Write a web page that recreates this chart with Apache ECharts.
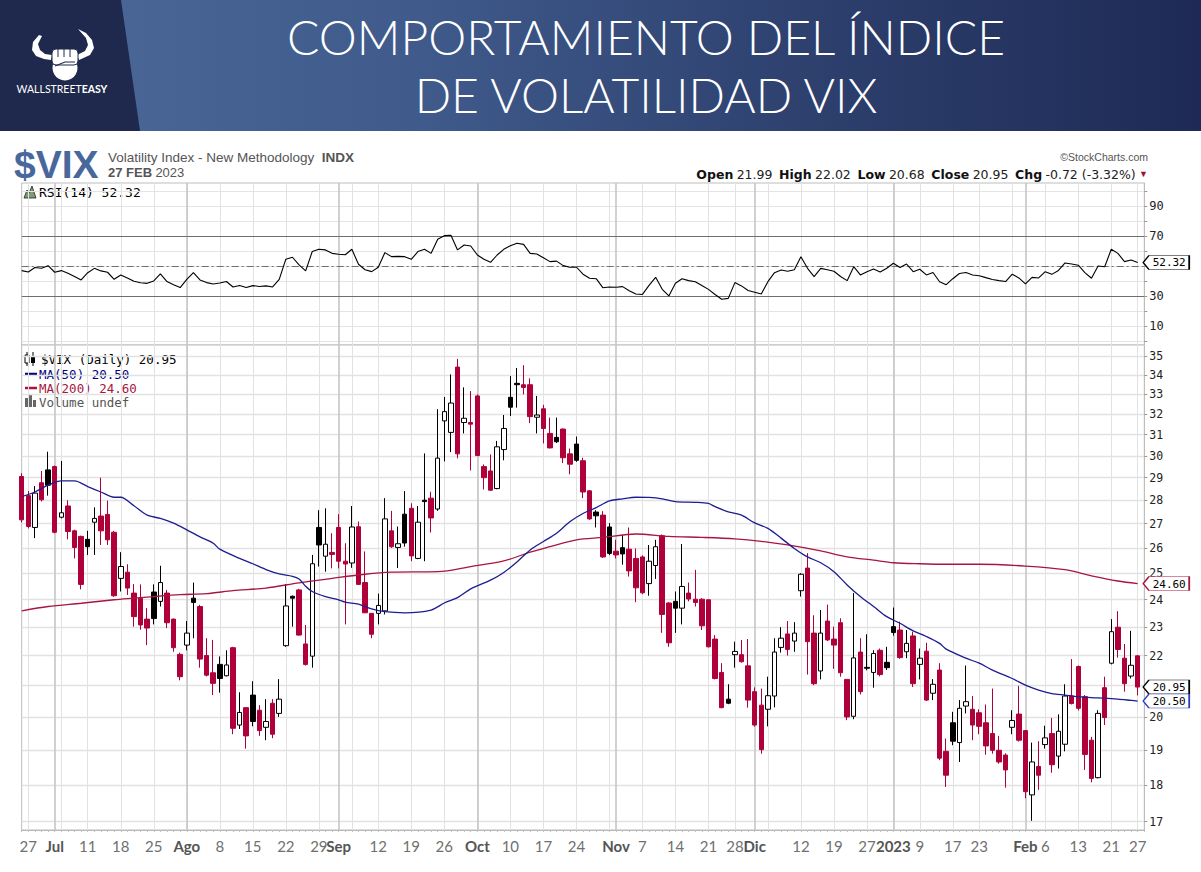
<!DOCTYPE html>
<html><head><meta charset="utf-8">
<script src="https://cdn.jsdelivr.net/npm/echarts@6/dist/echarts.min.js"></script>
<style>html,body{margin:0;padding:0;background:#fff}#c{width:1201px;height:872px}</style>
</head><body><div id="c"></div>
<script>
// ---------- DATA ----------
const dates = [
 '2022-06-24','2022-06-27','2022-06-28','2022-06-29','2022-06-30',
 '2022-07-01','2022-07-05','2022-07-06','2022-07-07','2022-07-08','2022-07-11','2022-07-12','2022-07-13','2022-07-14','2022-07-15',
 '2022-07-18','2022-07-19','2022-07-20','2022-07-21','2022-07-22','2022-07-25','2022-07-26','2022-07-27','2022-07-28','2022-07-29',
 '2022-08-01','2022-08-02','2022-08-03','2022-08-04','2022-08-05','2022-08-08','2022-08-09','2022-08-10','2022-08-11','2022-08-12',
 '2022-08-15','2022-08-16','2022-08-17','2022-08-18','2022-08-19','2022-08-22','2022-08-23','2022-08-24','2022-08-25','2022-08-26',
 '2022-08-29','2022-08-30','2022-08-31',
 '2022-09-01','2022-09-02','2022-09-06','2022-09-07','2022-09-08','2022-09-09','2022-09-12','2022-09-13','2022-09-14','2022-09-15',
 '2022-09-16','2022-09-19','2022-09-20','2022-09-21','2022-09-22','2022-09-23','2022-09-26','2022-09-27','2022-09-28','2022-09-29','2022-09-30',
 '2022-10-03','2022-10-04','2022-10-05','2022-10-06','2022-10-07','2022-10-10','2022-10-11','2022-10-12','2022-10-13','2022-10-14',
 '2022-10-17','2022-10-18','2022-10-19','2022-10-20','2022-10-21','2022-10-24','2022-10-25','2022-10-26','2022-10-27','2022-10-28','2022-10-31',
 '2022-11-01','2022-11-02','2022-11-03','2022-11-04','2022-11-07','2022-11-08','2022-11-09','2022-11-10','2022-11-11',
 '2022-11-14','2022-11-15','2022-11-16','2022-11-17','2022-11-18','2022-11-21','2022-11-22','2022-11-23','2022-11-25',
 '2022-11-28','2022-11-29','2022-11-30',
 '2022-12-01','2022-12-02','2022-12-05','2022-12-06','2022-12-07','2022-12-08','2022-12-09','2022-12-12','2022-12-13','2022-12-14',
 '2022-12-15','2022-12-16','2022-12-19','2022-12-20','2022-12-21','2022-12-22','2022-12-23','2022-12-27','2022-12-28','2022-12-29','2022-12-30',
 '2023-01-03','2023-01-04','2023-01-05','2023-01-06','2023-01-09','2023-01-10','2023-01-11','2023-01-12','2023-01-13',
 '2023-01-17','2023-01-18','2023-01-19','2023-01-20','2023-01-23','2023-01-24','2023-01-25','2023-01-26','2023-01-27','2023-01-30','2023-01-31',
 '2023-02-01','2023-02-02','2023-02-03','2023-02-06','2023-02-07','2023-02-08','2023-02-09','2023-02-10',
 '2023-02-13','2023-02-14','2023-02-15','2023-02-16','2023-02-17','2023-02-21','2023-02-22','2023-02-23','2023-02-24','2023-02-27'
];
const open = [
 29.05,28.20,26.84,28.77,29.35,29.50,27.27,27.75,26.70,26.47, 26.35,27.06,27.32,27.39,26.64,24.80,25.04,24.24,24.05,23.28,
 24.28,23.93,24.24,23.28,22.04,22.36,24.05,23.74,22.00,21.42, 21.70,21.32,22.27,19.75,20.29,20.69,20.21,19.68,20.43,20.11,
 22.34,24.12,24.36,22.40,21.98,26.84,25.67,25.82,26.84,25.47, 25.40,26.87,24.64,23.49,23.49,23.58,26.70,26.02,27.40,27.65,
 25.58,28.00,28.09,27.62,31.67,31.11,34.43,31.59,31.59,32.92, 29.50,29.30,28.51,30.29,32.85,33.57,33.50,33.50,31.85,32.27,
 31.06,30.87,31.27,30.09,30.55,29.77,28.41,27.49,27.36,26.86, 25.87,26.01,25.95,25.58,25.64,24.60,25.30,26.50,23.87,23.93,
 23.68,24.24,24.01,24.01,23.99,22.57,21.43,20.56,22.03,22.03, 21.65,20.80,20.37,20.24,20.66,22.28,22.75,22.50,24.33,25.20,
 22.78,21.48,23.21,22.57,23.15,21.20,20.02,22.12,21.60,21.43, 22.18,21.77,23.01,22.89,22.13,22.68,21.70,22.15,20.75,21.51,
 18.96,19.82,19.22,20.34,20.24,20.13,19.82,19.49,18.99,18.85, 19.68,20.09,19.58,17.72,18.52,19.16,19.49,18.82,19.17,20.66,
 21.63,20.64,19.29,18.20,20.93,21.74,22.99,21.91,21.31,21.99
];
const close = [
 27.16,26.88,28.31,28.02,28.66,26.64,27.46,26.67,26.02,24.57, 26.05,27.22,26.70,26.33,24.14,25.26,24.43,23.37,23.07,22.96,
 23.30,24.64,23.15,22.27,21.29,22.78,23.89,21.88,21.34,21.07, 21.23,21.68,19.65,20.14,19.42,19.86,19.58,19.86,19.47,20.56,
 23.76,24.05,22.71,21.70,25.37,26.12,26.15,25.74,25.47,25.36, 26.86,24.57,23.51,22.74,23.78,27.20,26.05,26.17,26.20,25.68,
 27.06,27.94,27.24,29.89,32.13,32.56,30.09,31.80,31.51,30.01, 29.00,28.44,30.42,31.30,32.35,33.50,33.36,31.88,31.96,31.30,
 30.37,30.66,29.91,29.61,29.79,28.36,27.20,27.33,25.64,25.78, 25.72,25.76,25.09,24.44,24.25,25.47,26.05,23.45,22.44,23.68,
 24.49,24.02,23.89,23.04,22.30,21.23,20.29,20.43,22.14,21.79, 20.53,19.75,19.01,20.67,22.12,22.60,22.21,22.78,24.96,22.48,
 21.06,22.78,22.54,22.36,21.42,20.00,21.92,20.80,21.57,22.07, 21.36,21.59,22.80,21.93,22.42,21.06,21.91,20.53,21.04,18.76,
 18.27,19.26,20.27,20.48,19.75,19.71,19.12,18.99,18.65,18.42, 19.89,19.29,17.81,18.65,18.27,19.36,18.57,19.56,20.66,20.42,
 20.27,18.87,18.18,20.11,19.98,22.83,22.21,21.06,21.67,20.95
];
const low = [
 27.05,26.80,26.40,27.95,28.20,26.60,27.22,26.35,25.58,24.38, 25.72,25.72,26.12,26.12,24.10,24.30,24.17,23.01,22.90,22.36,
 23.09,23.74,22.96,22.13,21.17,22.18,22.60,21.59,21.30,20.69, 20.77,21.30,19.47,19.63,19.04,19.71,19.42,19.29,19.35,20.00,
 22.30,23.01,22.69,21.66,21.59,25.26,25.06,25.19,25.19,23.09, 25.21,24.55,23.50,22.60,23.09,23.45,26.00,25.20,26.05,25.47,
 25.55,25.47,26.63,27.54,29.74,30.17,29.88,31.06,29.32,30.00, 28.47,28.41,28.48,29.79,31.91,32.33,33.00,31.56,31.06,30.58,
 30.34,30.60,29.66,29.15,29.72,28.09,27.16,26.84,25.60,25.71, 25.58,25.33,24.87,23.90,24.20,24.14,24.78,22.79,22.30,22.79,
 23.09,23.93,23.74,22.89,22.28,21.20,20.27,20.40,21.59,21.76, 20.29,19.70,18.89,19.71,20.30,22.10,22.00,22.13,24.11,21.36,
 21.01,21.20,22.50,21.55,21.29,19.90,19.93,20.71,21.50,20.93, 21.30,21.51,22.69,21.89,21.91,20.95,21.20,20.50,20.53,18.70,
 17.94,19.14,18.65,20.11,19.29,19.47,18.86,18.89,18.60,17.92, 19.47,19.25,17.63,17.02,17.86,19.04,18.34,18.46,18.96,20.39,
 20.20,18.42,18.07,18.18,19.75,21.70,21.93,20.80,21.23,20.68
];
const high = [
 29.20,28.40,28.62,29.30,30.19,29.55,29.76,28.00,26.75,26.50, 26.70,27.69,29.00,27.98,26.70,25.83,25.35,24.58,24.57,23.68,
 24.57,25.29,24.36,23.30,22.10,23.21,24.64,23.80,22.60,22.54, 21.97,22.18,22.30,20.78,20.30,21.14,20.37,20.56,20.56,21.21,
 24.58,24.15,24.40,23.07,25.72,27.57,27.65,26.60,27.40,26.19, 27.75,27.09,25.86,23.50,24.22,28.09,27.54,26.88,28.40,27.87,
 27.75,30.11,28.37,32.25,32.87,34.04,34.87,33.36,33.17,33.00, 29.60,30.06,30.70,31.96,33.95,34.38,34.53,33.83,32.92,32.47,
 31.83,31.83,31.30,30.34,30.91,29.91,28.44,27.57,27.53,27.02, 26.33,26.53,26.84,25.98,25.70,26.12,26.33,26.55,23.90,24.30,
 26.16,24.64,25.13,24.05,24.00,22.71,21.74,21.04,22.48,22.54, 22.57,20.94,20.90,21.29,22.60,22.99,23.21,23.17,25.00,25.79,
 23.42,23.61,23.81,23.01,23.31,21.20,24.24,22.60,22.74,22.18, 22.24,22.30,23.70,23.19,22.89,22.83,22.24,22.44,21.21,21.74,
 19.34,20.16,20.53,21.66,20.66,20.24,20.39,20.90,19.42,18.90, 20.21,20.99,19.60,19.22,19.26,19.73,19.97,20.08,21.04,21.88,
 21.66,20.69,19.39,20.21,21.29,23.28,23.57,22.40,22.86,22.02
];
const rsi = [
 46.9,46.0,49.0,48.5,50.2,45.8,46.9,45.1,43.0,40.7, 45.5,48.4,46.7,45.8,41.1,44.0,42.0,39.8,38.8,38.4,
 40.0,44.7,39.6,37.5,35.6,41.1,45.6,40.7,38.9,38.0, 38.6,39.6,36.0,37.0,35.6,36.9,36.3,36.7,36.0,41.1,
 54.5,55.8,50.7,46.7,59.6,61.1,60.7,58.4,57.8,57.5, 61.1,51.1,47.5,46.2,49.1,58.9,56.2,56.4,56.2,54.4,
 59.6,61.1,58.4,67.8,70.2,70.5,60.7,64.0,63.3,57.3, 54.5,52.4,57.3,61.1,63.5,65.1,64.4,58.4,58.0,55.5,
 52.9,53.2,50.2,49.1,49.3,44.5,41.8,41.5,35.5,36.0, 35.8,36.2,33.5,31.3,31.0,37.0,42.4,34.4,30.0,38.5,
 41.5,40.2,39.5,37.0,34.4,31.0,27.8,28.4,38.9,36.7, 33.6,32.5,31.3,39.5,45.5,47.3,46.5,47.5,56.2,48.4,
 42.9,48.4,47.5,46.5,43.0,40.2,49.5,44.0,46.2,48.0, 46.0,48.5,51.8,49.0,51.3,46.2,47.8,44.0,45.6,39.5,
 37.5,41.5,45.0,45.6,44.0,43.5,42.2,41.0,40.2,39.6, 44.5,42.0,38.0,42.4,42.0,46.2,44.4,47.0,52.0,51.3,
 50.5,45.6,41.8,50.0,49.5,61.1,58.4,52.9,54.0,52.32
];
// moving averages: [trading-day index, value]
const ma50 = [
 [0,28.16],[2,28.36],[4,28.66],[6,28.85],[8,28.85],[10,28.60],[12,28.36],[14,28.13],[15,28.13],[17,27.76],[19,27.36],
 [21,27.22],[23,27.02],[25,26.74],[27,26.45],[29,26.19],[30,25.95],[33,25.58],[35,25.37],[37,25.14],[39,24.97],[41,24.88],
 [42,24.78],[43,24.50],[44,24.30],[46,24.11],[48,23.99],[49,23.90],[51,23.83],[53,23.65],[55,23.55],[58,23.51],[62,23.61],
 [64,23.87],[66,24.07],[68,24.40],[71,24.73],[73,25.03],[75,25.44],[77,25.92],[79,26.26],[81,26.60],[83,27.08],[85,27.43],
 [87,27.68],[89,27.97],[91,28.06],[93,28.13],[95,28.12],[97,28.06],[99,27.94],[102,27.91],[104,27.86],[105,27.72],[107,27.50],
 [109,27.36],[111,27.03],[113,26.80],[115,26.40],[117,25.98],[119,25.64],[121,25.41],[123,25.06],[125,24.55],[127,24.11],
 [129,23.74],[131,23.37],[133,23.13],[135,22.86],[137,22.66],[139,22.42],[140,22.22],[143,21.91],[145,21.74],[147,21.51],
 [150,21.23],[152,21.01],[154,20.85],[156,20.74],[158,20.69],[160,20.64],[162,20.61],[164,20.59],[166,20.56],[168,20.52],[169,20.50]
];
const ma200 = [
 [0,23.58],[4,23.74],[9,23.86],[14,23.99],[17,24.05],[20,24.11],[24,24.18],[28,24.22],[32,24.33],[37,24.43],[42,24.63],
 [47,24.80],[52,24.96],[56,25.04],[63,25.06],[68,25.26],[73,25.48],[77,25.83],[80,26.05],[84,26.33],[88,26.43],[93,26.57],
 [98,26.47],[103,26.43],[108,26.37],[112,26.27],[116,26.12],[121,25.88],[125,25.64],[129,25.51],[132,25.41],[136,25.37],
 [140,25.35],[145,25.35],[152,25.28],[158,25.14],[162,24.90],[166,24.70],[169,24.60]
];
// price-axis labels (21 sits behind the 20.95 / 20.50 tags in the reference)
const priceGridTicks = [17,18,19,20,21,22,23,24,25,26,27,28,29,30,31,32,33,34,35];
const priceLabelTicks = [17,18,19,20,22,23,24,25,26,27,28,29,30,31,32,33,34,35];
// RSI-axis labels (50 sits behind the 52.32 tag in the reference)
const rsiLabelTicks = [10,30,70,90];
const rsiGridTicks = [0,10,20,30,40,50,60,70,80,90,100];
const tickLabels = {
 '2022-06-27':'27','2022-07-01':'Jul','2022-07-11':'11','2022-07-18':'18','2022-07-25':'25',
 '2022-08-01':'Ago','2022-08-08':'8','2022-08-15':'15','2022-08-22':'22','2022-08-29':'29',
 '2022-09-01':'Sep','2022-09-12':'12','2022-09-19':'19','2022-09-26':'26',
 '2022-10-03':'Oct','2022-10-10':'10','2022-10-17':'17','2022-10-24':'24',
 '2022-11-01':'Nov','2022-11-07':'7','2022-11-14':'14','2022-11-21':'21','2022-11-28':'28',
 '2022-12-01':'Dic','2022-12-12':'12','2022-12-19':'19','2022-12-27':'27',
 '2023-01-03':'2023','2023-01-09':'9','2023-01-17':'17','2023-01-23':'23',
 '2023-02-01':'Feb','2023-02-06':'6','2023-02-13':'13','2023-02-21':'21','2023-02-27':'27'
};
const monthStarts = ['2022-07-01','2022-08-01','2022-09-01','2022-10-03','2022-11-01','2022-12-01','2023-01-03','2023-02-01'];
const weekStarts = ['2022-06-27','2022-07-05','2022-07-11','2022-07-18','2022-07-25','2022-08-01','2022-08-08','2022-08-15',
 '2022-08-22','2022-08-29','2022-09-06','2022-09-12','2022-09-19','2022-09-26','2022-10-03','2022-10-10','2022-10-17',
 '2022-10-24','2022-10-31','2022-11-07','2022-11-14','2022-11-21','2022-11-28','2022-12-05','2022-12-12','2022-12-19',
 '2022-12-27','2023-01-03','2023-01-09','2023-01-17','2023-01-23','2023-01-30','2023-02-06','2023-02-13','2023-02-21','2023-02-27'];
const lastBar = {open:'21.99', high:'22.02', low:'20.68', close:'20.95', chg:'-0.72', pct:'-3.32%', rsi:'52.32', ma50:'20.50', ma200:'24.60'};
const titleLines = ['COMPORTAMIENTO DEL ÍNDICE', 'DE VOLATILIDAD VIX'];

// ---------- STYLE ----------
const RED = '#b0003a', BLACK = '#000000', NAVY = '#1d1d8f', MARED = '#a8163f';
const MONO = "'DejaVu Sans Mono', monospace";
const SANS = "'Liberation Sans', Arial, sans-serif";
const DJV = "'DejaVu Sans', Verdana, sans-serif";
const LATO = "Lato, 'Open Sans', sans-serif";
const L = Math.log;
const monthSet = new Set(monthStarts), weekSet = new Set(weekStarts);
const cats = dates.concat(['']);           // one empty slot at the right edge
const lastDate = dates[dates.length - 1];

const candleData = dates.map((d, i) => {
  const o = open[i], c = close[i];
  const ref = i > 0 ? close[i - 1] : o;
  const col = c >= ref && i > 0 ? BLACK : RED;
  return {
    value: [L(o), L(c), L(low[i]), L(high[i])],
    itemStyle: {color: c > o ? '#ffffff' : col, color0: col, borderColor: col, borderColor0: col, borderWidth: 1}
  };
});

const TAG = 'path://M0,7 L6,0 L48,0 L48,14 L6,14 Z';
function tag(coordY, text, border, dy) {
  return {
    coord: [lastDate, coordY], symbol: TAG, symbolSize: [46, 14], symbolOffset: [28.5, 0],
    itemStyle: {color: '#fff', borderColor: border, borderWidth: 1},
    label: {show: true, position: 'inside', formatter: text, color: '#000', fontFamily: MONO, fontSize: 11, lineHeight: 10, offset: [3, dy || 0]}
  };
}

function xAxes(gridIndex, withLabels) {
  return [{
    type: 'category', gridIndex, data: cats, boundaryGap: false,
    axisLine: {show: withLabels, lineStyle: {color: '#b8b8b8'}},
    axisTick: {show: withLabels, interval: 0, length: 2, lineStyle: {color: '#c0c0c0'}},
    axisLabel: withLabels ? {
      show: true, interval: (i, v) => v in tickLabels, margin: 8,
      formatter: v => monthSet.has(v) ? '{b|' + tickLabels[v] + '}' : '{n|' + tickLabels[v] + '}',
      rich: {
        n: {fontFamily: LATO, fontSize: 15, color: '#707070'},
        b: {fontFamily: LATO, fontSize: 15, color: '#555555', fontWeight: 'bold'}
      }
    } : {show: false},
    splitLine: {show: true, interval: (i, v) => weekSet.has(v), lineStyle: {color: '#e2e2e2', width: 1}}
  }, {
    type: 'category', gridIndex, data: cats, boundaryGap: false,
    axisLine: {show: false}, axisTick: {show: false}, axisLabel: {show: false},
    splitLine: {show: true, interval: (i, v) => monthSet.has(v), lineStyle: {color: '#c6c6c6', width: 1.6}}
  }];
}

const chart = echarts.init(document.getElementById('c'), null, {renderer: 'svg', width: 1201, height: 872});

const graphic = [
  // header banner
  {type: 'rect', shape: {x: 0, y: 0, width: 1201, height: 131}, style: {fill: {type: 'linear', x: 0, y: 0, x2: 1, y2: 0,
    colorStops: [{offset: 0, color: '#4c6a9b'}, {offset: 0.35, color: '#3f5a8b'}, {offset: 0.7, color: '#2c3e6c'}, {offset: 1, color: '#1e2a55'}]}}},
  {type: 'polygon', shape: {points: [[0, 0], [121, 0], [140, 131], [0, 131]]}, style: {fill: '#1f294d'}},
  {type: 'text', style: {text: titleLines[0], x: 646, y: 36, fill: '#ffffff', font: '300 48px ' + LATO, lineHeight: 48,
    align: 'center', textAlign: 'center', verticalAlign: 'middle', textVerticalAlign: 'middle'}},
  {type: 'text', style: {text: titleLines[1], x: 646, y: 94, fill: '#ffffff', font: '300 48px ' + LATO, lineHeight: 48,
    align: 'center', textAlign: 'center', verticalAlign: 'middle', textVerticalAlign: 'middle'}},
  // logo
  {type: 'polygon', shape: {points: [[39,35],[33,42],[32,50],[36,56],[44,59],[51,60],[52,55],[45,54],[40,50],[38,44],[42,36]]}, style: {fill: '#fff'}},
  {type: 'polygon', shape: {points: [[78,29],[86,33],[92,40],[94,48],[90,55],[79,60],[77,55],[85,51],[88,45],[86,38]]}, style: {fill: '#fff'}},
  {type: 'circle', shape: {cx: 65, cy: 68, r: 12.5}, style: {fill: '#fff'}},
  {type: 'rect', shape: {x: 52, y: 49, width: 26, height: 16, r: 4}, style: {fill: '#fff', stroke: '#1f294d', lineWidth: 1}},
  {type: 'polyline', shape: {points: [[58, 49], [58, 57]]}, style: {stroke: '#1f294d', lineWidth: 1}},
  {type: 'polyline', shape: {points: [[64, 49], [64, 57]]}, style: {stroke: '#1f294d', lineWidth: 1}},
  {type: 'polyline', shape: {points: [[70, 49], [70, 57]]}, style: {stroke: '#1f294d', lineWidth: 1}},
  {type: 'polyline', shape: {points: [[55, 66], [65, 62], [75, 62]]}, style: {stroke: '#1f294d', lineWidth: 1.2, fill: null}},
  {type: 'text', style: {text: '{a|WALLSTREET}{b|EASY}', x: 62, y: 89, align: 'center', textAlign: 'center', verticalAlign: 'middle', textVerticalAlign: 'middle',
    rich: {a: {fontFamily: LATO, fontSize: 10.5, fill: '#fff', color: '#fff'}, b: {fontFamily: LATO, fontSize: 10.5, fontWeight: 'bold', fill: '#fff', color: '#fff'}}}},
  // symbol header
  {type: 'text', style: {text: '$VIX', x: 14, y: 164, fill: '#48689c', font: 'bold 39px ' + SANS, verticalAlign: 'middle', textVerticalAlign: 'middle'}},
  {type: 'text', style: {text: '{n|Volatility Index - New Methodology  }{b|INDX}', x: 108, y: 157, verticalAlign: 'middle', textVerticalAlign: 'middle',
    rich: {n: {fontFamily: SANS, fontSize: 13.5, fill: '#555', color: '#555'}, b: {fontFamily: SANS, fontSize: 13.5, fontWeight: 'bold', fill: '#555', color: '#555'}}}},
  {type: 'text', style: {text: '{b|27 FEB} {n|2023}', x: 108, y: 172, verticalAlign: 'middle', textVerticalAlign: 'middle',
    rich: {n: {fontFamily: SANS, fontSize: 13, fill: '#555', color: '#555'}, b: {fontFamily: SANS, fontSize: 13, fontWeight: 'bold', fill: '#555', color: '#555'}}}},
  {type: 'text', style: {text: '©StockCharts.com', x: 1148, y: 157, fill: '#555', font: '10.5px ' + SANS, align: 'right', textAlign: 'right', verticalAlign: 'middle', textVerticalAlign: 'middle'}},
  {type: 'text', style: {
    text: '{b|Open} {n|' + lastBar.open + '}  {b|High} {n|' + lastBar.high + '}  {b|Low} {n|' + lastBar.low + '}  {b|Close} {n|' + lastBar.close + '}  {b|Chg} {n|' + lastBar.chg + ' (' + lastBar.pct + ')} {r|▼}',
    x: 1148, y: 174, align: 'right', textAlign: 'right', verticalAlign: 'middle', textVerticalAlign: 'middle',
    rich: {b: {fontFamily: DJV, fontSize: 12.5, fontWeight: 'bold', fill: '#111', color: '#111'},
           n: {fontFamily: DJV, fontSize: 12.5, fill: '#222', color: '#222'},
           r: {fontFamily: SANS, fontSize: 9, fill: '#a0103a', color: '#a0103a'}}}},
  // RSI label
  {type: 'polygon', shape: {points: [[24,198],[27,190],[29,193],[32,186],[36,198]]}, style: {fill: '#7f9a78', stroke: '#222', lineWidth: 0.8}},
  {type: 'text', style: {text: 'RSI(14) ' + lastBar.rsi, x: 39, y: 192, fill: '#000', font: '13px ' + MONO, verticalAlign: 'middle', textVerticalAlign: 'middle', backgroundColor: '#fff'}},
  // price legend
  {type: 'polyline', shape: {points: [[27, 352], [27, 366]]}, style: {stroke: '#000', lineWidth: 1}},
  {type: 'rect', shape: {x: 25, y: 355, width: 4, height: 8}, style: {fill: '#fff', stroke: '#000', lineWidth: 1}},
  {type: 'polyline', shape: {points: [[33, 352], [33, 366]]}, style: {stroke: '#000', lineWidth: 1}},
  {type: 'rect', shape: {x: 31, y: 356, width: 4, height: 7}, style: {fill: '#000'}},
  {type: 'text', style: {text: '$VIX (Daily) ' + lastBar.close, x: 41, y: 359, fill: '#000', font: '12.5px ' + MONO, verticalAlign: 'middle', textVerticalAlign: 'middle', backgroundColor: '#fff'}},
  {type: 'polyline', shape: {points: [[25, 374], [37, 374]]}, style: {stroke: '#00007f', lineWidth: 2.5}},
  {type: 'text', style: {text: 'MA(50) ' + lastBar.ma50, x: 39, y: 374, fill: '#00007f', font: '12.5px ' + MONO, verticalAlign: 'middle', textVerticalAlign: 'middle', backgroundColor: '#fff'}},
  {type: 'polyline', shape: {points: [[25, 388], [37, 388]]}, style: {stroke: MARED, lineWidth: 2.5}},
  {type: 'text', style: {text: 'MA(200) ' + lastBar.ma200, x: 39, y: 388, fill: MARED, font: '12.5px ' + MONO, verticalAlign: 'middle', textVerticalAlign: 'middle', backgroundColor: '#fff'}},
  {type: 'rect', shape: {x: 25, y: 398, width: 3, height: 9}, style: {fill: '#666'}},
  {type: 'rect', shape: {x: 29, y: 395, width: 3, height: 12}, style: {fill: '#666'}},
  {type: 'rect', shape: {x: 33, y: 400, width: 3, height: 7}, style: {fill: '#666'}},
  {type: 'text', style: {text: 'Volume undef', x: 39, y: 402, fill: '#555', font: '12.5px ' + MONO, verticalAlign: 'middle', textVerticalAlign: 'middle', backgroundColor: '#fff'}}
];

const option = {
  animation: false,
  backgroundColor: '#ffffff',
  textStyle: {fontFamily: MONO},
  grid: [
    {left: 21.7, right: 56.7, top: 183, height: 162, show: true, borderColor: '#bdbdbd', borderWidth: 1, backgroundColor: '#fff', outerBoundsMode: 'none', containLabel: false},
    {left: 21.7, right: 56.7, top: 345, height: 485, show: true, borderColor: '#bdbdbd', borderWidth: 1, backgroundColor: '#fff', outerBoundsMode: 'none', containLabel: false}
  ],
  xAxis: [].concat(xAxes(0, false), xAxes(1, true)),
  yAxis: [{
    type: 'value', gridIndex: 0, position: 'right', min: -2.7, max: 105.3,
    axisLine: {show: true, lineStyle: {color: '#bdbdbd'}},
    axisTick: {show: true, customValues: rsiGridTicks, length: 3, lineStyle: {color: '#999'}},
    axisLabel: {show: true, customValues: rsiLabelTicks, margin: 5, color: '#222', fontFamily: MONO, fontSize: 12, lineHeight: 10},
    splitLine: {show: true, lineStyle: {color: '#e4e4e4', width: 1}}
  }, {
    type: 'value', gridIndex: 1, position: 'right', min: L(16.78), max: L(35.63), scale: true,
    axisLine: {show: true, lineStyle: {color: '#bdbdbd'}},
    axisTick: {show: true, customValues: priceGridTicks.map(L), length: 3, lineStyle: {color: '#999'}},
    axisLabel: {show: true, customValues: priceLabelTicks.map(L), margin: 5, color: '#222', fontFamily: MONO, fontSize: 11.5, lineHeight: 9,
      formatter: v => String(Math.round(Math.exp(v)))},
    splitLine: {show: true, lineStyle: {color: '#e2e2e2', width: 1.3}}
  }],
  series: [
    {
      name: 'RSI(14)', type: 'line', xAxisIndex: 0, yAxisIndex: 0, data: rsi, showSymbol: false, clip: false,
      lineStyle: {color: '#000', width: 1.1}, itemStyle: {color: '#000'}, z: 5,
      markLine: {silent: true, symbol: ['none', 'none'], label: {show: false}, animation: false,
        data: [
          {yAxis: 70, lineStyle: {color: '#6f6f6f', width: 1, type: 'solid'}},
          {yAxis: 30, lineStyle: {color: '#6f6f6f', width: 1, type: 'solid'}},
          {yAxis: 50, lineStyle: {color: '#6f6f6f', width: 1, type: [7, 3, 2, 3]}}
        ]},
      markPoint: {silent: true, animation: false, data: [tag(Number(lastBar.rsi), lastBar.rsi, '#000')]}
    },
    {
      name: '$VIX', type: 'candlestick', xAxisIndex: 2, yAxisIndex: 1, data: candleData, barWidth: 5, z: 3
    },
    {
      name: 'MA(200)', type: 'line', xAxisIndex: 2, yAxisIndex: 1, data: ma200.map(p => [p[0], L(p[1])]),
      showSymbol: false, smooth: 0.3, clip: false, lineStyle: {color: MARED, width: 1.3}, itemStyle: {color: MARED}, z: 4,
      markPoint: {silent: true, animation: false, data: [tag(L(Number(lastBar.ma200)), lastBar.ma200, MARED, 1)]}
    },
    {
      name: 'MA(50)', type: 'line', xAxisIndex: 2, yAxisIndex: 1, data: ma50.map(p => [p[0], L(p[1])]),
      showSymbol: false, smooth: 0.3, clip: false, lineStyle: {color: NAVY, width: 1.3}, itemStyle: {color: NAVY}, z: 4,
      markPoint: {silent: true, animation: false, data: [
        tag(L(Number(lastBar.close)), lastBar.close, '#000'),
        tag(L(Number(lastBar.ma50)), lastBar.ma50, '#2a3cc0')
      ]}
    }
  ],
  graphic: graphic
};
chart.setOption(option);
</script>
</body></html>
